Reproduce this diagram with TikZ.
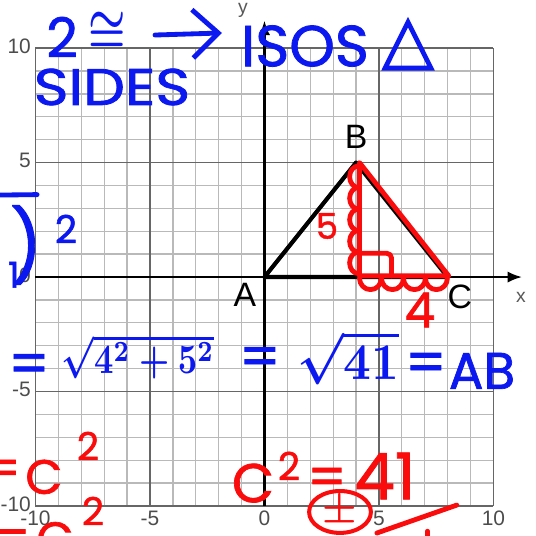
\documentclass[tikz,border=0pt]{standalone}
\usepackage{fontspec}
\setmainfont{Liberation Sans}
\newfontfamily\handfont{Poppins}[FakeBold=1.3]
\newfontfamily\symfont{DejaVu Sans}[FakeBold=2]
\usepackage{xcolor}
\usetikzlibrary{arrows.meta,positioning,calc,shapes.geometric}

\definecolor{penblue}{RGB}{12,24,240}
\definecolor{penred}{RGB}{250,12,12}
\newcommand{\bigmath}[3]{\scalebox{#1}[#2]{\boldmath$#3$}}

\begin{document}
\begin{tikzpicture}[
    x=0.5cm, y=0.5cm,
    minor/.style={draw=gray!55, line width=0.8pt},
    major/.style={draw=black!60, line width=0.9pt},
    axis/.style={draw=black, line width=1.4pt, -{Latex[length=9pt,width=7pt]}},
    tick/.style={font=\fontsize{13}{13}\selectfont, text=black!70, inner sep=1pt},
    axlab/.style={font=\fontsize{12}{12}\selectfont, text=black!65, inner sep=0pt},
    vlab/.style={font=\fontsize{21}{21}\selectfont, inner sep=0pt},
    tri/.style={draw=black, line width=2.6pt, line join=round},
    redpen/.style={draw=penred, line width=3pt, line cap=round, line join=round},
    bluepen/.style={draw=penblue, line width=3pt, line cap=round, line join=round},
    blue/.style={text=penblue, inner sep=0pt, font=\handfont\fontsize{#1}{#1}\selectfont},
    red/.style={text=penred, inner sep=0pt, font=\handfont\fontsize{#1}{#1}\selectfont},
    bluemath/.style={text=penblue, inner sep=0pt},
    redmath/.style={text=penred, inner sep=0pt}
]
    \useasboundingbox[fill=white] (-11.55,-11.31) rectangle (11.86,12.10);

    % grid
    \foreach \i in {-9,...,-6,-4,-3,-2,-1,1,2,3,4,6,7,8,9} {
        \draw [minor] (\i,-10) -- (\i,10);
        \draw [minor] (-10,\i) -- (10,\i);
    }
    \foreach \i in {-10,-5,5,10} {
        \draw [major] (\i,-10) -- (\i,10);
        \draw [major] (-10,\i) -- (10,\i);
    }
    \draw [axis] (-10,0) -- (11.25,0);
    \draw [axis] (0,-10) -- (0,11.2);
    \node [axlab] (xlab) at (11.2,-0.87) {x};
    \node [axlab] (ylab) at (-0.94,11.66) {y};

    % tick labels
    \foreach \v in {-10,-5,0,5,10} {
        \node [tick, anchor=east] at (-10.12,\v+0.08) {\v};
        \node [tick] at (\v,-10.55) {\v};
    }

    % triangle ABC
    \coordinate (A) at (0,0);
    \coordinate (B) at (4,5);
    \coordinate (C) at (8,0);
    \draw [tri] (A) -- (B) -- (C) -- cycle;
    \node [vlab] (la) at (-0.85,-0.79) {A};
    \node [vlab] (lb) at (4.0,6.11) {B};
    \node [vlab] (lc) at (8.53,-0.87) {C};

    % red right triangle
    \coordinate (B1) at (4.15,5.0);
    \coordinate (C1) at (8.05,0.05);
    \coordinate (H) at (4.15,0.05);
    \draw [redpen] (B1) -- (C1) -- (H) -- cycle;
    \draw [redpen, rounded corners=3pt] (4.15,1.04) -- (5.55,1.04) -- (5.55,0.05);
    \draw [redpen] (4.1,4.85) \foreach \k in {1,...,5} { arc [start angle=90, end angle=270, x radius=0.38, y radius=0.47] };
    \draw [redpen] (4.15,-0.05) \foreach \k in {1,...,4} { arc [start angle=180, end angle=360, x radius=0.48, y radius=0.5] };
    \node [red=22] (five) at (2.73,2.23) {5};
    \node [red=30] (four) at (6.79,-1.44) {4};

    % blue notes, top
    \node [blue=34] (two) at (-8.84,10.48) {2};
    \node [bluemath] (cong) at (-6.88,10.7) {\bigmath{2.6}{3.4}{\cong}};
    \coordinate (arrs) at (-4.78,10.57);
    \coordinate (arre) at (-1.86,10.66);
    \draw [bluepen, -{Straight Barb[length=16pt,width=30pt]}] (arrs) -- (arre);
    \node [blue=36] (isos) at (1.77,10.09) {ISOS};
    \node [text=penblue, inner sep=0pt, font=\symfont\fontsize{42}{42}\selectfont] (delta) at (6.27,10.17) {△};
    \node [blue=32] (sides) at (-6.66,8.3) {\scalebox{1.15}[1]{SIDES}};

    % blue notes, left edge
    \draw [bluepen] (-11.6,3.58) -- (-9.93,3.6);
    \node [blue=44] (paren) at (-10.4,1.4) {)};
    \node [blue=24] (sq) at (-8.67,2.1) {2};
    \node [blue=22] (sub) at (-10.95,0.1) {1};

    % blue notes, middle
    \node [blue=36] (eql) at (-10.28,-4.02) {=};
    \node [bluemath] (roota) at (-5.52,-3.49) {\bigmath{2.1}{2.6}{\sqrt{4^2+5^2}}};
    \node [blue=36] (eqm) at (-0.2,-3.71) {=};
    \node [bluemath] (rootb) at (3.65,-3.54) {\bigmath{3.0}{3.2}{\sqrt{41}}};
    \node [blue=36] (eqr) at (7.05,-3.97) {=};
    \node [blue=32] (ab) at (9.5,-4.1) {AB};

    % red notes, bottom left
    \node [red=32] (eqll) at (-11.46,-8.56) {=};
    \node [red=30] (cl) at (-9.63,-8.73) {C};
    \node [red=24] (clsq) at (-7.71,-7.38) {2};
    \node [red=32] (eqll2) at (-11.03,-11.6) {=};
    \node [red=30] (cl2) at (-9.15,-11.45) {C};
    \node [red=24] (cl2sq) at (-7.49,-10.22) {2};

    % red notes, bottom right
    \node [red=34] (cr) at (-0.5,-9.0) {C};
    \node [red=24] (crsq) at (1.07,-8.25) {2};
    \node [red=34] (eq41) at (2.73,-8.95) {=};
    \node [red=40] (n41) at (5.26,-8.69) {41};
    \node [ellipse, draw=penred, line width=2.5pt, minimum width=1.35cm, minimum height=0.8cm, inner sep=0pt, redmath] (pm) at (3.3,-10.26) {\bigmath{2.4}{2.4}{\pm}};
    \draw [redpen] (4.91,-11.18) -- (8.4,-9.96);
    \draw [redpen] (7.12,-11.4) -- (7.12,-11.1);
\end{tikzpicture}
\end{document}
